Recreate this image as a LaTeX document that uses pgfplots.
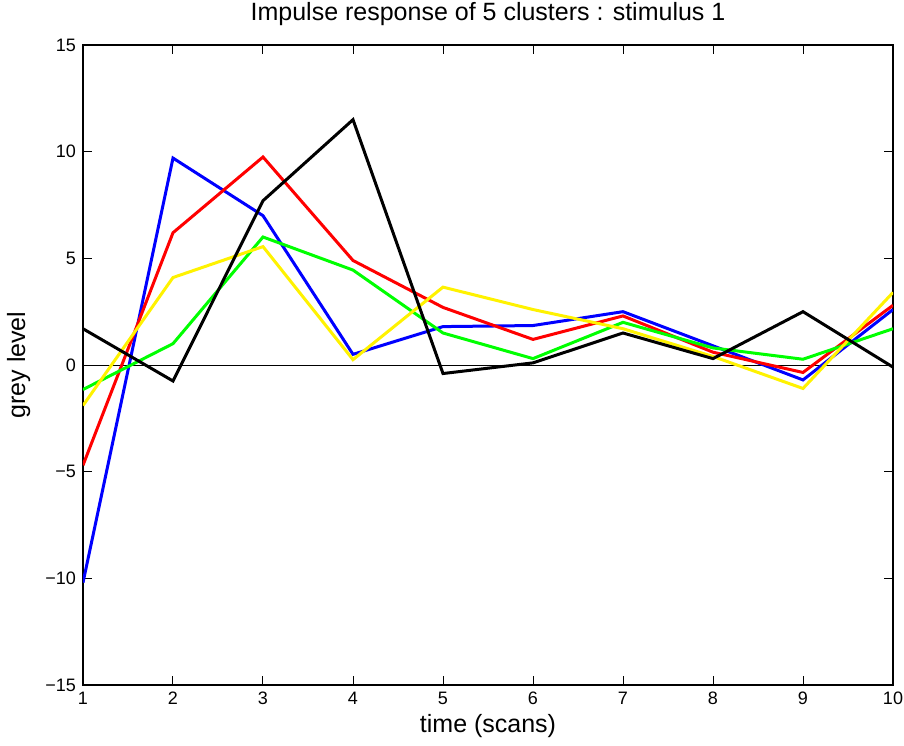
\documentclass[border=0pt]{standalone}
\usepackage{fontspec}
\setmainfont{Liberation Sans}
\usepackage{pgfplots}
\pgfplotsset{compat=1.18}

\begin{document}
\begin{tikzpicture}
  \begin{axis}[
      scale only axis,
      width=405pt, height=320pt,
      xmin=1, xmax=10,
      ymin=-15, ymax=15,
      xtick={1,2,...,10},
      ytick={-15,-10,...,15},
      yticklabels={−15,−10,−5,0,5,10,15},
      tick align=inside,
      major tick length=4.5pt,
      tick style={black, line width=0.5pt},
      axis line style={line width=0.8pt},
      /pgf/number format/assume math mode=true,
      tick label style={font=\fontsize{9}{10}\selectfont},
      title={Impulse response of 5 clusters : stimulus 1},
      title style={font=\fontsize{12.5}{14}\selectfont, at={(0.5,1)}, anchor=base, yshift=6pt},
      xlabel={time (scans)},
      ylabel={grey level},
      label style={font=\fontsize{12.5}{14}\selectfont},
      xlabel style={at={(axis description cs:0.5,0)}, anchor=base, yshift=-23.5pt},
      ylabel style={at={(axis description cs:-0.0716,0.5)}, anchor=base},
      every axis plot/.append style={line width=1.5pt, line join=miter},
    ]
    % zero line
    \addplot[black, line width=0.5pt] coordinates {(1,0) (10,0)};

    % blue cluster
    \addplot[blue] coordinates {
      (1,-10.2) (2,9.7) (3,7.0) (4,0.5) (5,1.8) (6,1.85) (7,2.5) (8,0.9) (9,-0.7) (10,2.6)
    };
    % red cluster
    \addplot[red] coordinates {
      (1,-4.7) (2,6.2) (3,9.75) (4,4.9) (5,2.7) (6,1.2) (7,2.3) (8,0.6) (9,-0.35) (10,2.8)
    };
    % green cluster
    \addplot[green] coordinates {
      (1,-1.15) (2,1.0) (3,6.0) (4,4.45) (5,1.5) (6,0.3) (7,2.0) (8,0.8) (9,0.27) (10,1.7)
    };
    % yellow cluster
    \addplot[yellow] coordinates {
      (1,-1.9) (2,4.1) (3,5.55) (4,0.25) (5,3.65) (6,2.6) (7,1.7) (8,0.4) (9,-1.1) (10,3.4)
    };
    % black cluster
    \addplot[black] coordinates {
      (1,1.7) (2,-0.75) (3,7.7) (4,11.5) (5,-0.4) (6,0.1) (7,1.5) (8,0.3) (9,2.5) (10,-0.1)
    };
  \end{axis}
  \pgfresetboundingbox
  \useasboundingbox ([shift={(-41.5pt,-30pt)}]current axis.south west)
    rectangle ([shift={(5.5pt,22.5pt)}]current axis.north east);
\end{tikzpicture}
\end{document}
